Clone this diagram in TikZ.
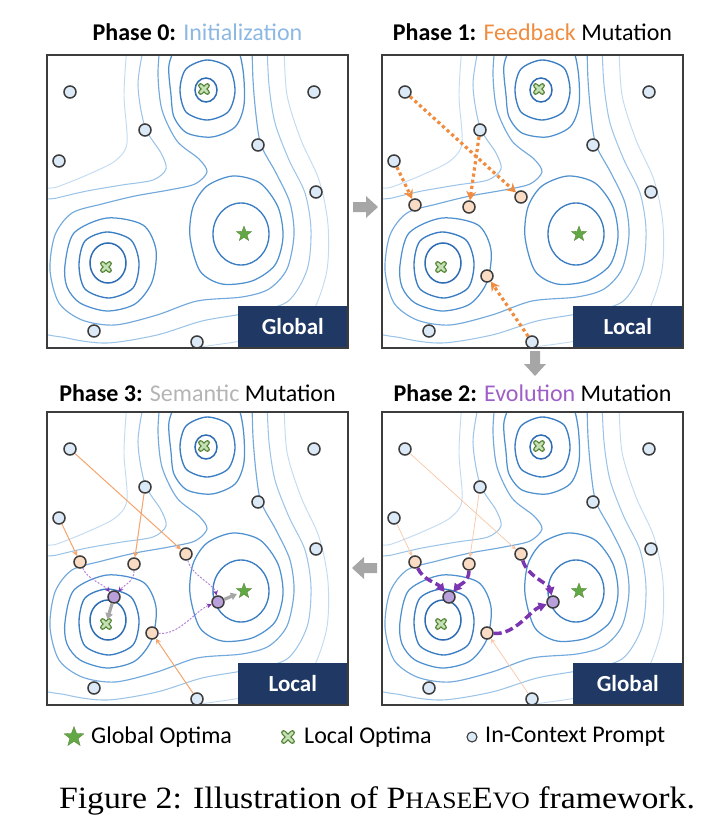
\documentclass[tikz,border=0pt]{standalone}
\usepackage{fontspec}
\setmainfont{Carlito}
\newfontfamily\capfont{Liberation Serif}
\usepackage{tikz}
\usetikzlibrary{arrows.meta,shapes.geometric,positioning}
\definecolor{ringA}{HTML}{2E6DB4}
\definecolor{ringB}{HTML}{3A7DC2}
\definecolor{ringC}{HTML}{4F90CF}
\definecolor{ringD}{HTML}{73A9DC}
\definecolor{ringE}{HTML}{9CC4E8}
\definecolor{ringF}{HTML}{C3DBF1}
\definecolor{frame}{HTML}{3C3C3C}
\definecolor{navy}{HTML}{1F3864}
\definecolor{promptfill}{HTML}{DCEAF7}
\definecolor{peach}{HTML}{FADBC3}
\definecolor{lilac}{HTML}{B9A0DA}
\definecolor{init}{HTML}{8DB8E3}
\definecolor{fbk}{HTML}{F08C40}
\definecolor{fbklight}{HTML}{F8C7A6}
\definecolor{fbkmid}{HTML}{F4A46C}
\definecolor{sem}{HTML}{B4B4B4}
\definecolor{evo}{HTML}{9E5FC9}
\definecolor{evodark}{HTML}{7B35B0}
\definecolor{evolight}{HTML}{B483DB}
\definecolor{gopt}{HTML}{62A844}
\definecolor{loptdark}{HTML}{548235}
\definecolor{loptlight}{HTML}{C5E0B4}
\definecolor{blockgray}{HTML}{A6A6A6}
\tikzset{
  lv1/.style={draw=ringA, line width=1.5pt},
  lv2/.style={draw=ringB, line width=1.35pt},
  lv3/.style={draw=ringC, line width=1.25pt},
  lv4/.style={draw=ringD, line width=1.15pt},
  lv5/.style={draw=ringE, line width=1.05pt},
  lv6/.style={draw=ringF, line width=0.95pt},
  prompt/.style={circle, draw=frame, line width=1.5pt, fill=promptfill, minimum size=12pt, inner sep=0pt},
  fbnode/.style={prompt, fill=peach},
  evnode/.style={prompt, fill=lilac},
  gstar/.style={star, star points=5, star point ratio=2.4, minimum size=16pt, inner sep=0pt, fill=gopt, draw=loptdark, line width=0.3pt},
  lopt/.pic={
    \draw[loptdark, line width=5pt, line cap=round] (-3.4,-3.4) -- (3.4,3.4) (-3.4,3.4) -- (3.4,-3.4);
    \draw[loptlight, line width=2.6pt, line cap=round] (-3.4,-3.4) -- (3.4,3.4) (-3.4,3.4) -- (3.4,-3.4);
  },
  phasearrow/.pic={
    \fill[blockgray] (-12,-5) -- (1,-5) -- (1,-11) -- (13,0) -- (1,11) -- (1,5) -- (-12,5) -- cycle;
  },
  tag/.style={anchor=south east, fill=navy, text=white, minimum width=110pt, minimum height=42pt, inner sep=0pt, font=\bfseries\fontsize{23}{23}\selectfont},
  title/.style={anchor=base, font=\fontsize{24}{28}\selectfont},
  legtext/.style={anchor=west, inner sep=0pt, font=\fontsize{24}{26}\selectfont},
  fbdot/.style={draw=fbk, line width=3.2pt, dash pattern=on 3.2pt off 3pt, -{Stealth[length=9pt, width=10pt]}},
  fbthin/.style={draw=fbklight, line width=0.7pt, -{Stealth[length=5pt, width=5pt]}},
  fbmid/.style={draw=fbkmid, line width=1pt, -{Stealth[length=5.5pt, width=5.5pt]}},
  evthick/.style={draw=evodark, line width=3.5pt, dash pattern=on 8pt off 4pt, -{Triangle[length=8pt, width=9pt]}},
  evdot/.style={draw=evolight, line width=1pt, dash pattern=on 2pt off 1.5pt, -{Stealth[length=5pt, width=5pt, color=evodark]}},
  semarr/.style={draw=blockgray, line width=3.2pt, -{Triangle[length=6pt, width=7.5pt]}},
}

% one panel: landscape, optima, prompts, tag
\newcommand{\landscape}[2]{%
  \begin{scope}
    \clip (0,0) rectangle (301,293);
    % top basin
    \draw[lv1] (159,35) ellipse[x radius=11, y radius=12];
    \draw[lv2] plot[smooth cycle] coordinates {(133,35) (139,14) (160,5) (182,13) (188,36) (181,57) (160,65) (139,57)};
    \draw[lv3] plot[smooth cycle] coordinates {(124,40) (122,10) (132,-10) (160,-22) (188,-10) (196,15) (197,50) (188,72) (165,82) (140,78) (127,62)};
    % bottom-left basin
    \draw[lv1] (61,208) ellipse[x radius=18, y radius=20];
    \draw[lv2] plot[smooth cycle] coordinates {(32,210) (38,186) (60,177) (84,185) (92,208) (86,233) (62,243) (38,234)};
    \draw[lv3] plot[smooth cycle] coordinates {(18,210) (27,178) (60,163) (96,170) (109,195) (105,227) (88,249) (60,256) (33,248) (20,232)};
    % global basin
    \draw[lv2] (194,179) ellipse[x radius=28, y radius=31];
    \draw[lv3] plot[smooth cycle] coordinates {(143,182) (146,152) (160,131) (186,121) (213,128) (231,152) (236,182) (228,210) (205,226) (175,229) (153,216)};
    % merged levels
    \draw[lv4] plot[smooth] coordinates {(113,-10) (111,20) (115,55) (130,86) (152,104) (160,117) (148,129) (122,135) (88,141) (55,149) (25,158) (8,180) (3,215) (12,248) (35,265) (68,270) (110,260) (150,246) (195,242) (222,234) (240,214) (247,180) (243,148) (229,118) (214,90) (209,60) (206,25) (205,-10)};
    \draw[lv5] plot[smooth] coordinates {(97,-10) (91,30) (98,72) (114,98) (119,114) (106,125) (75,130) (40,136) (10,143) (-15,150) (-25,200) (-15,270) (20,283) (60,288) (110,280) (155,266) (200,258) (240,247) (260,215) (264,175) (258,138) (242,105) (228,68) (222,30) (220,-10)};
    \draw[lv6] plot[smooth] coordinates {(80,-10) (77,40) (80,88) (68,106) (40,120) (10,132) (-15,140) (-30,200) (-15,295) (50,300) (110,297) (160,291) (210,283) (258,268) (279,220) (281,170) (272,125) (254,85) (240,40) (237,-10)};
  \end{scope}
  \coordinate (#1lo1) at (157,34);
  \coordinate (#1lo2) at (59,212);
  \pic at (#1lo1) {lopt};
  \pic at (#1lo2) {lopt};
  \node[gstar] (#1go) at (197,179) {};
  \foreach \n/\x/\y in {1/23/37, 2/267/37, 3/98/75, 4/211/90, 5/12/106, 6/269/137, 7/47/276, 8/150/287}
    \node[prompt] (#1p\n) at (\x,\y) {};
  \node[tag] (#1tag) at (301,293) {#2};
  \draw[frame, line width=1.3pt] (0,0) rectangle (301,293);
}
\newcommand{\fakesc}[1]{{\fontsize{23.5}{24}\selectfont #1}}

\begin{document}
\begin{tikzpicture}[x=1pt, y=-1pt]
\useasboundingbox (0,0) rectangle (725,824);

% Phase 0
\begin{scope}[shift={(47,55)}]
  \landscape{A}{Global}
\end{scope}

% Phase 1
\begin{scope}[shift={(382,55)}]
  \landscape{B}{Local}
  \foreach \n/\x/\y in {1/33/150, 2/87/152, 3/139/142, 4/105/221}
    \node[fbnode] (Bq\n) at (\x,\y) {};
  \draw[fbdot] (Bp1) -- (Bq3);
  \draw[fbdot] (Bp3) -- (Bq2);
  \draw[fbdot] (Bp5) -- (Bq1);
  \draw[fbdot] (Bp8) -- (Bq4);
\end{scope}

% Phase 2
\begin{scope}[shift={(382,412)}]
  \landscape{C}{Global}
  \foreach \n/\x/\y in {1/33/150, 2/87/152, 3/139/142, 4/105/221}
    \node[fbnode] (Cq\n) at (\x,\y) {};
  \node[evnode] (Cr1) at (67,185) {};
  \node[evnode] (Cr2) at (171,190) {};
  \draw[fbthin] (Cp1) -- (Cq3);
  \draw[fbthin] (Cp3) -- (Cq2);
  \draw[fbthin] (Cp5) -- (Cq1);
  \draw[fbthin] (Cp8) -- (Cq4);
  \draw[evthick] (Cq1) .. controls +(8,18) and +(-12,-14) .. (Cr1);
  \draw[evthick] (Cq2) .. controls +(0,18) and +(10,-12) .. (Cr1);
  \draw[evthick] (Cq3) .. controls +(6,22) and +(-4,-18) .. (Cr2);
  \draw[evthick] (Cq4) .. controls +(28,2) and +(-22,8) .. (Cr2);
\end{scope}

% Phase 3
\begin{scope}[shift={(47,412)}]
  \landscape{D}{Local}
  \foreach \n/\x/\y in {1/33/150, 2/87/152, 3/139/142, 4/105/221}
    \node[fbnode] (Dq\n) at (\x,\y) {};
  \node[evnode] (Dr1) at (67,185) {};
  \node[evnode] (Dr2) at (171,190) {};
  \draw[fbmid] (Dp1) -- (Dq3);
  \draw[fbmid] (Dp3) -- (Dq2);
  \draw[fbmid] (Dp5) -- (Dq1);
  \draw[fbmid] (Dp8) -- (Dq4);
  \draw[evdot] (Dq1) .. controls +(8,18) and +(-12,-14) .. (Dr1);
  \draw[evdot] (Dq2) .. controls +(0,18) and +(10,-12) .. (Dr1);
  \draw[evdot] (Dq3) .. controls +(6,22) and +(-4,-18) .. (Dr2);
  \draw[evdot] (Dq4) .. controls +(28,2) and +(-22,8) .. (Dr2);
  \draw[semarr, shorten >=5pt] (Dr1) -- (Dlo2);
  \draw[semarr, shorten >=4pt] (Dr2) -- (Dgo);
\end{scope}

% titles
\node[title] (t0) at (197.5,41) {\textbf{Phase 0:} \textcolor{init}{Initialization}};
\node[title] (t1) at (532.5,41) {\textbf{Phase 1:} \textcolor{fbk}{Feedback} Mutation};
\node[title] (t3) at (197.5,401) {\textbf{Phase 3:} \textcolor{sem}{Semantic} Mutation};
\node[title] (t2) at (532.5,401) {\textbf{Phase 2:} \textcolor{evo}{Evolution} Mutation};

% phase order
\pic at (365,207) {phasearrow};
\pic[rotate=-90] at (535,363) {phasearrow};
\pic[rotate=180] at (365,568) {phasearrow};

% legend
\node[gstar, minimum size=21pt] (lgstar) at (74,737) {};
\node[legtext] (lgglobal) at (91,737) {Global Optima};
\coordinate (lglocal) at (288,737);
\pic[scale=1.3] at (lglocal) {lopt};
\node[legtext] (lglocaltext) at (304,737) {Local Optima};
\node[prompt, minimum size=10pt, line width=1.1pt] (lgprompt) at (472,737) {};
\node[legtext] (lgprompttext) at (485,737) {In-Context Prompt};

% caption
\node[anchor=base, font=\capfont\fontsize{31}{31}\selectfont] (caption) at (377,808) {\scalebox{1.09}[1]{Figure 2: Illustration of P\fakesc{HASE}E\fakesc{VO} framework.}};
\end{tikzpicture}
\end{document}
